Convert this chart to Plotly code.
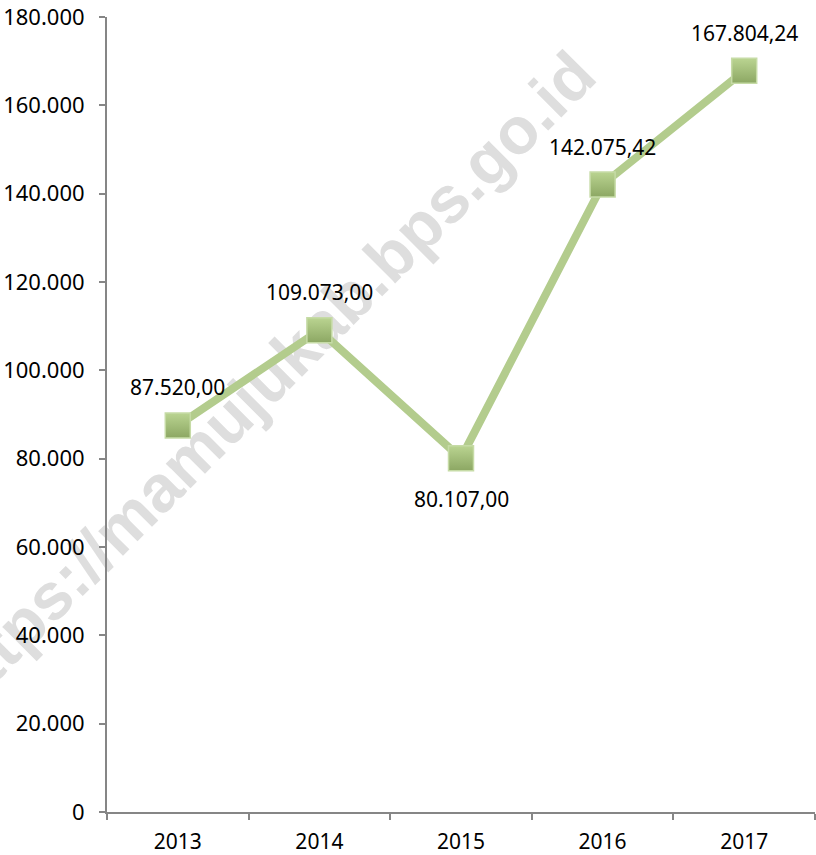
import plotly.graph_objects as go

# data
years = ["2013", "2014", "2015", "2016", "2017"]
values = [87520.00, 109073.00, 80107.00, 142075.42, 167804.24]
label_above = [True, True, False, True, True]
y_ticks = [0, 20000, 40000, 60000, 80000, 100000, 120000, 140000, 160000, 180000]

# colors
line_color = '#b3cc8d'
marker_top = '#bad491'
marker_bottom = '#8ca763'
axis_color = '#868686'
font_name = 'Noto Sans'

fig = go.Figure()

fig.add_trace(go.Scatter(
    x=years,
    y=values,
    mode='lines+markers',
    line=dict(color=line_color, width=8),
    marker=dict(
        symbol='square',
        size=25,
        color=marker_top,
        gradient=dict(type='vertical', color=marker_bottom),
        line=dict(color='#c6dba6', width=1.5),
    ),
    cliponaxis=False,
    showlegend=False,
    hoverinfo='skip',
))

# value labels (category axis -> annotation x is the category index)
for i, (v, above) in enumerate(zip(values, label_above)):
    txt = '{:,.2f}'.format(v).replace(',', ' ').replace('.', ',').replace(' ', '.')
    fig.add_annotation(
        x=i, y=v, text=txt, showarrow=False,
        yshift=38 if above else -41,
        font=dict(family=font_name, size=21, color='#000000'),
    )

# watermark (drawn below the line)
fig.add_shape(
    type='rect', xref='paper', yref='paper',
    x0=0.018, x1=0.418, y0=0.448, y1=0.648,
    line=dict(width=0), fillcolor='rgba(0,0,0,0)',
    layer='below',
    label=dict(
        text='<b>https://mamujukab.bps.go.id</b>',
        textangle=-45,
        textposition='middle center',
        font=dict(family='Liberation Sans', size=66, color='#dedede'),
    ),
)

fig.update_layout(
    width=816, height=855,
    margin=dict(l=107, r=1, t=17, b=43, autoexpand=False),
    paper_bgcolor='white',
    plot_bgcolor='rgba(0,0,0,0)',
    separators=',.',
    font=dict(family=font_name, size=22, color='#000000'),
    xaxis=dict(
        type='category',
        range=[-0.5, 4.5],
        showgrid=False,
        showline=True, linecolor=axis_color, linewidth=2,
        ticks='outside', tickson='boundaries', ticklen=6, tickcolor=axis_color, tickwidth=2,
        tickfont=dict(family=font_name, size=21),
        ticklabelstandoff=10,
        zeroline=False,
        automargin=False,
    ),
    yaxis=dict(
        range=[0, 180000],
        tickvals=y_ticks,
        tickformat=',d',
        showgrid=False,
        showline=True, linecolor=axis_color, linewidth=2,
        ticks='outside', ticklen=6, tickcolor=axis_color, tickwidth=2,
        tickfont=dict(family=font_name, size=22),
        ticklabelstandoff=10,
        zeroline=False,
        automargin=False,
    ),
)

# page has a default body margin, drop it so the figure sits at 0,0
fig.write_html("out.html", config={'displayModeBar': False},
               post_script="document.body.style.margin='0';")
